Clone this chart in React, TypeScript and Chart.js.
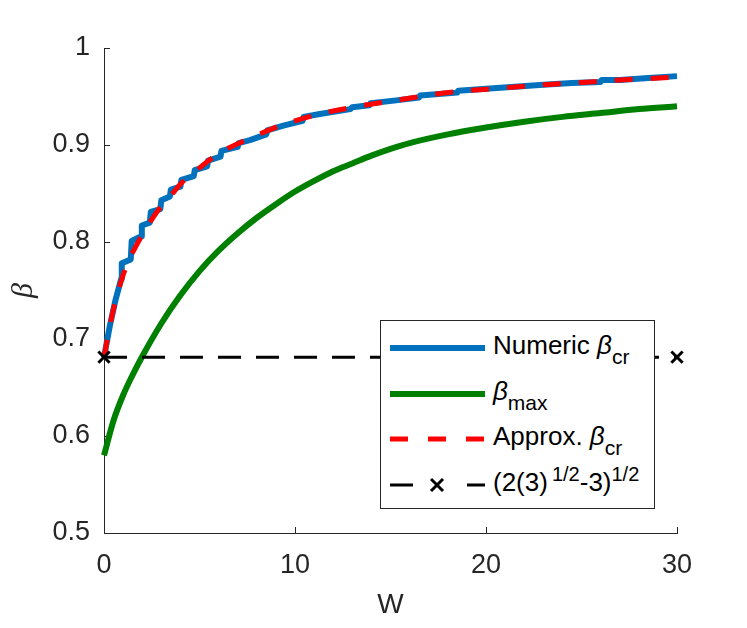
import React, { useRef, useEffect } from 'react';
import { Chart, registerables } from 'chart.js';

Chart.register(...registerables);

// Numeric beta_cr (staircase from the numeric search)
const numericW = [0, 0.3, 0.6, 0.9, 0.93, 1.4, 1.45, 1.95, 1.98, 2.4, 2.45, 2.95, 3.0, 3.45, 3.5, 4.0, 4.05, 4.7, 4.75, 5.4, 5.45, 6.1, 6.15, 7.0, 7.05, 7.64, 8.5, 8.55, 9.39, 10.4, 10.45, 11.3, 12.9, 13.0, 13.9, 13.95, 15.3, 16.5, 16.55, 17.2, 18.5, 18.55, 20, 21.5, 23, 24.5, 26, 26.05, 27, 28.5, 30];
const numericBeta = [0.681, 0.713, 0.74, 0.762, 0.778, 0.782, 0.801, 0.806, 0.817, 0.82, 0.831, 0.834, 0.843, 0.847, 0.854, 0.857, 0.864, 0.868, 0.874, 0.878, 0.884, 0.888, 0.894, 0.898, 0.902, 0.905, 0.911, 0.915, 0.92, 0.925, 0.929, 0.932, 0.937, 0.939, 0.941, 0.943, 0.946, 0.949, 0.951, 0.952, 0.954, 0.956, 0.958, 0.96, 0.962, 0.964, 0.965, 0.967, 0.967, 0.969, 0.971];

// Approx. beta_cr
const approxW = [0, 0.33, 0.6, 0.92, 1.27, 1.71, 2.15, 2.84, 3.5, 4.07, 4.8, 5.55, 6.16, 7.64, 9.39, 11.3, 13.2, 15.3, 17.2, 19, 21, 23, 25, 27, 30];
const approxBeta = [0.681, 0.716, 0.739, 0.761, 0.78, 0.797, 0.812, 0.833, 0.848, 0.861, 0.873, 0.885, 0.893, 0.907, 0.921, 0.932, 0.9395, 0.946, 0.952, 0.956, 0.959, 0.962, 0.9645, 0.967, 0.97];

// beta_max
const maxW = [0, 0.5, 1, 1.5, 2, 3, 4, 5, 6, 7, 8, 9, 10, 11, 12, 13, 14, 15, 16, 18, 20, 22, 24, 26, 28, 30];
const maxBeta = [0.58, 0.616, 0.642, 0.663, 0.682, 0.716, 0.745, 0.77, 0.791, 0.809, 0.825, 0.839, 0.852, 0.863, 0.873, 0.881, 0.889, 0.896, 0.902, 0.911, 0.918, 0.924, 0.929, 0.933, 0.937, 0.94];

// (2(3)^(1/2)-3)^(1/2)
const limitW = [0, 30];
const limitBeta = [0.6813, 0.6813];

const xTicks = [0, 10, 20, 30];
const yTicks = [0.5, 0.6, 0.7, 0.8, 0.9, 1];

const SANS = '"Liberation Sans", Arial, Helvetica, sans-serif';
const AXIS = '#262626';

const toPoints = (xs: number[], ys: number[]) => xs.map((x, i) => ({ x, y: ys[i] }));

// MATLAB style ticks pointing into the axes
const inwardTicks = {
  id: 'inwardTicks',
  beforeDatasetsDraw(chart: any) {
    const { ctx, chartArea, scales } = chart;
    const len = 6;
    ctx.save();
    ctx.strokeStyle = AXIS;
    ctx.lineWidth = 1;
    scales.x.ticks.forEach((_t: any, i: number) => {
      const px = Math.round(scales.x.getPixelForTick(i)) + 0.5;
      ctx.beginPath();
      ctx.moveTo(px, chartArea.bottom);
      ctx.lineTo(px, chartArea.bottom - len);
      ctx.stroke();
    });
    scales.y.ticks.forEach((_t: any, i: number) => {
      const py = Math.round(scales.y.getPixelForTick(i)) + 0.5;
      ctx.beginPath();
      ctx.moveTo(chartArea.left, py);
      ctx.lineTo(chartArea.left + len, py);
      ctx.stroke();
    });
    ctx.restore();
  },
};

const Sample: React.FC<{ kind: string }> = ({ kind }) => (
  <svg width={95} height={20} style={{ position: 'absolute', left: 0, top: 0 }}>
    {kind === 'blue' && <line x1={0} y1={10} x2={95} y2={10} stroke="#0072BD" strokeWidth={6} />}
    {kind === 'green' && <line x1={0} y1={10} x2={95} y2={10} stroke="#008000" strokeWidth={6} />}
    {kind === 'red' && (
      <line x1={0} y1={10} x2={95} y2={10} stroke="#FF0000" strokeWidth={5} strokeDasharray="18 20" />
    )}
    {kind === 'black' && (
      <g stroke="#000" strokeWidth={3}>
        <line x1={0} y1={10} x2={23} y2={10} />
        <line x1={77} y1={10} x2={95} y2={10} />
        <line x1={41} y1={4} x2={53} y2={16} />
        <line x1={53} y1={4} x2={41} y2={16} />
      </g>
    )}
  </svg>
);

const sub = { fontSize: 21, position: 'relative' as const, top: 10 };
const sup = { fontSize: 20, position: 'relative' as const, top: -10 };
const greek = { fontStyle: 'italic' as const };

const legendRows: { kind: string; center: number; text: React.ReactNode }[] = [
  { kind: 'blue', center: 26.7, text: <>Numeric <span style={greek}>β</span><span style={sub}>cr</span></> },
  { kind: 'green', center: 72.7, text: <><span style={greek}>β</span><span style={sub}>max</span></> },
  { kind: 'red', center: 118.3, text: <>Approx. <span style={greek}>β</span><span style={sub}>cr</span></> },
  { kind: 'black', center: 164, text: <>(2(3)<span style={{ ...sup, marginLeft: 4 }}>1/2</span>-3)<span style={sup}>1/2</span></> },
];

const App: React.FC = () => {
  const canvasRef = useRef<HTMLCanvasElement>(null);
  const chartRef = useRef<Chart | null>(null);

  useEffect(() => {
    document.body.style.margin = '0';
    if (!canvasRef.current) return;
    if (chartRef.current) chartRef.current.destroy();

    chartRef.current = new Chart(canvasRef.current, {
      type: 'line',
      data: {
        datasets: [
          {
            label: 'Numeric βcr',
            data: toPoints(numericW, numericBeta),
            borderColor: '#0072BD',
            borderWidth: 6,
            borderJoinStyle: 'round',
            pointRadius: 0,
            tension: 0,
            order: 4,
            clip: false,
          },
          {
            label: 'βmax',
            data: toPoints(maxW, maxBeta),
            borderColor: '#008000',
            borderWidth: 6,
            pointRadius: 0,
            cubicInterpolationMode: 'monotone',
            order: 3,
            clip: false,
          },
          {
            label: 'Approx. βcr',
            data: toPoints(approxW, approxBeta),
            borderColor: '#FF0000',
            borderWidth: 5,
            borderDash: [18, 18],
            pointRadius: 0,
            cubicInterpolationMode: 'monotone',
            order: 2,
            clip: false,
          },
          {
            label: '(2(3)^1/2-3)^1/2',
            data: toPoints(limitW, limitBeta),
            borderColor: '#000000',
            borderWidth: 3,
            borderDash: [23, 15],
            pointStyle: 'crossRot',
            pointRadius: 8,
            pointBorderWidth: 3,
            pointBorderColor: '#000000',
            order: 1,
            clip: false,
          },
        ],
      },
      options: {
        responsive: false,
        animation: false,
        layout: { padding: { top: 48, right: 70, left: 0, bottom: 0 } },
        plugins: {
          legend: { display: false },
          tooltip: { enabled: false },
        },
        scales: {
          x: {
            type: 'linear',
            min: 0,
            max: 30,
            afterBuildTicks: (s: any) => {
              s.ticks = xTicks.map((v) => ({ value: v }));
            },
            afterFit: (s: any) => {
              s.height = 95;
            },
            ticks: {
              color: AXIS,
              font: { family: SANS, size: 27 },
              padding: 16,
              maxRotation: 0,
              callback: (v: any) => String(Number(v)),
            },
            grid: { display: true, drawOnChartArea: false, drawTicks: false },
            border: { display: true, color: AXIS, width: 1 },
            title: {
              display: true,
              text: 'W',
              color: AXIS,
              font: { family: SANS, size: 28 },
              padding: { top: 0, bottom: 6 },
            },
          },
          y: {
            type: 'linear',
            min: 0.5,
            max: 1,
            afterBuildTicks: (s: any) => {
              s.ticks = yTicks.map((v) => ({ value: v }));
            },
            afterFit: (s: any) => {
              s.width = 104;
            },
            ticks: {
              color: AXIS,
              font: { family: SANS, size: 27 },
              padding: 14,
              callback: (v: any) => String(Number(v)),
            },
            grid: { display: true, drawOnChartArea: false, drawTicks: false },
            border: { display: true, color: AXIS, width: 1 },
            title: {
              display: true,
              text: 'β',
              color: AXIS,
              font: { family: '"Liberation Serif", serif', size: 30, style: 'italic' },
              padding: { top: 6, bottom: 0 },
            },
          },
        },
      },
      plugins: [inwardTicks],
    } as any);

    return () => {
      if (chartRef.current) {
        chartRef.current.destroy();
        chartRef.current = null;
      }
    };
  }, []);

  return (
    <div style={{ position: 'relative', width: 747, height: 628, background: '#fff' }}>
      <canvas ref={canvasRef} width={747} height={628} />
      <div
        style={{
          position: 'absolute',
          left: 380,
          top: 320,
          width: 275,
          height: 189,
          boxSizing: 'border-box',
          border: `1px solid ${AXIS}`,
          background: '#fff',
          fontFamily: SANS,
          fontSize: 26,
          color: '#000',
        }}
      >
        {legendRows.map((r) => (
          <div key={r.kind}>
            <div style={{ position: 'absolute', left: 9, top: r.center - 10, width: 95, height: 20 }}>
              <Sample kind={r.kind} />
            </div>
            <div
              style={{
                position: 'absolute',
                left: 112,
                top: r.center - 18,
                lineHeight: '30px',
                whiteSpace: 'nowrap',
              }}
            >
              {r.text}
            </div>
          </div>
        ))}
      </div>
    </div>
  );
};

export default App;
